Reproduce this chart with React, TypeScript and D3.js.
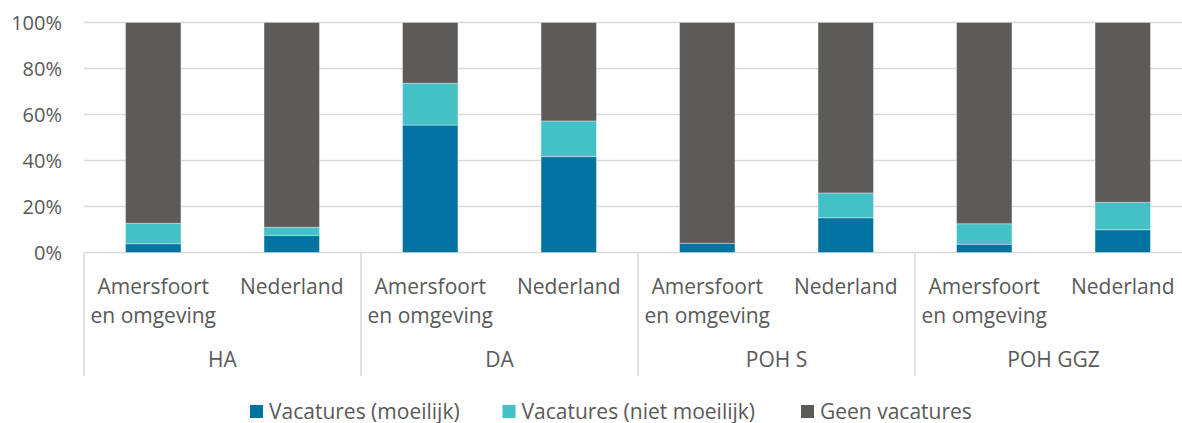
import React from "react";
import * as d3 from "d3";

const groups = ["HA", "DA", "POH S", "POH GGZ"];
const regions = ["Amersfoort\nen omgeving", "Nederland"];
const seriesNames = ["Vacatures (moeilijk)", "Vacatures (niet moeilijk)", "Geen vacatures"];
const colors = ["#0073A0", "#43C1C7", "#5E5A57"];

// per bar: HA-Amf, HA-NL, DA-Amf, DA-NL, POH S-Amf, POH S-NL, POH GGZ-Amf, POH GGZ-NL
const moeilijk = [3.8, 7.5, 55.4, 41.7, 4, 15.1, 3.6, 9.9];
const nietMoeilijk = [8.9, 3.5, 18.2, 15.5, 0, 10.8, 8.9, 11.9];
const geen = [87.3, 89, 26.4, 42.8, 96, 74.1, 87.5, 78.2];
const yTicks = [0, 20, 40, 60, 80, 100];

const W = 1182;
const H = 423;
const margin = { left: 84, right: -10, top: 22.5, bottom: 170.5 };
const font = "'Open Sans', sans-serif";
const textColor = "#595959";

const App = () => {
  const bars = groups.flatMap((g, gi) =>
    regions.map((r, ri) => {
      const i = gi * regions.length + ri;
      return { key: `${g}-${ri}`, group: g, region: r, m: moeilijk[i], n: nietMoeilijk[i], g: geen[i] };
    })
  );

  const x = d3
    .scaleBand<string>()
    .domain(bars.map((b) => b.key))
    .range([margin.left, W - margin.right])
    .paddingInner(0.6)
    .paddingOuter(0.3);

  const step = x.step();
  const y = d3.scaleLinear().domain([0, 100]).range([H - margin.bottom, margin.top]);

  const stacked = d3.stack<any>().keys(["m", "n", "g"])(bars);

  const y0 = y(0);
  const groupW = step * regions.length;
  const legendX = [250, 502.5, 801];

  return (
    <svg width={W} height={H} style={{ position: "absolute", left: 0, top: 0, background: "#fff" }}>
      {yTicks.map((t) => (
        <g key={t}>
          <line x1={margin.left} x2={W} y1={y(t)} y2={y(t)} stroke="#D9D9D9" strokeWidth={1.5} />
          <text x={62} y={y(t)} dy="0.35em" textAnchor="end" fontFamily={font} fontSize={20} fill={textColor}>
            {t}%
          </text>
        </g>
      ))}
      {stacked.map((s, si) =>
        s.map((d) => (
          <rect
            key={`${si}-${d.data.key}`}
            x={x(d.data.key)}
            width={x.bandwidth()}
            y={y(d[1])}
            height={Math.max(0, y(d[0]) - y(d[1]))}
            fill={colors[si]}
            stroke="#ffffff"
            strokeOpacity={0.35}
            strokeWidth={1}
          />
        ))
      )}
      {groups.map((g, gi) => {
        const gx = margin.left + gi * groupW;
        return (
          <g key={g}>
            <line x1={gx} x2={gx} y1={y0} y2={376} stroke="#D9D9D9" strokeWidth={1.5} />
            <text x={gx + groupW / 2} y={367} textAnchor="middle" fontFamily={font} fontSize={21} fill={textColor}>
              {g}
            </text>
          </g>
        );
      })}
      {bars.map((b) => {
        const cx = (x(b.key) as number) + x.bandwidth() / 2;
        return (
          <text key={b.key} x={cx} y={294} textAnchor="middle" fontFamily={font} fontSize={21} fill={textColor}>
            {b.region.split("\n").map((line, li) => (
              <tspan key={li} x={cx} dy={li === 0 ? 0 : 29}>
                {line}
              </tspan>
            ))}
          </text>
        );
      })}
      {seriesNames.map((name, i) => (
        <g key={name}>
          <rect x={legendX[i]} y={405} width={13} height={13} fill={colors[i]} />
          <text x={legendX[i] + 19} y={418.5} fontFamily={font} fontSize={21} fill={textColor}>
            {name}
          </text>
        </g>
      ))}
    </svg>
  );
};

export default App;
